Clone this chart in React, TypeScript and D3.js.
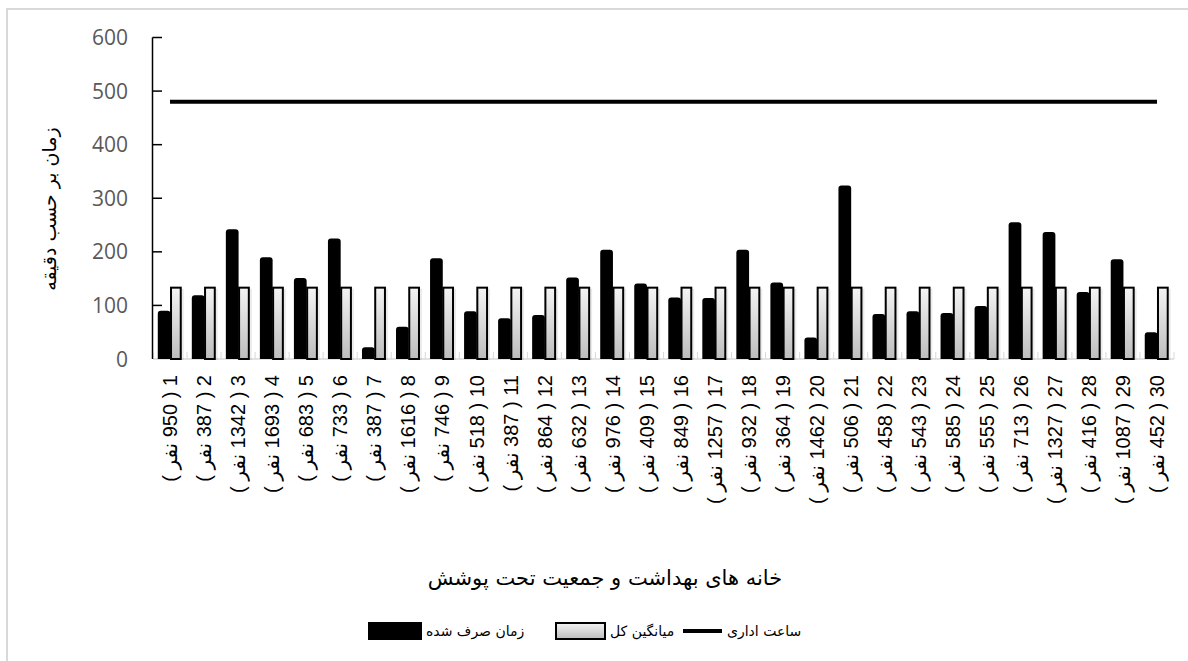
import React, { useRef, useEffect } from 'react';
import * as d3 from 'd3';

const CATEGORIES = Array.from({ length: 30 }, (_, i) => String(i + 1));
const POPULATION = [950, 387, 1342, 1693, 683, 733, 387, 1616, 746, 518, 387, 864, 632, 976, 409, 849, 1257, 932, 364, 1462, 506, 458, 543, 585, 555, 713, 1327, 416, 1087, 452];
const SPENT = [90, 119, 242, 190, 151, 225, 22, 60, 188, 89, 76, 82, 152, 204, 141, 115, 114, 204, 143, 40, 324, 84, 89, 86, 99, 255, 237, 125, 186, 50];
const AVERAGE = 135;
const OFFICE_HOURS = 480;
const Y_TICKS = [0, 100, 200, 300, 400, 500, 600];

const LEGEND = {
  spent: 'زمان صرف شده',
  avg: 'میانگین کل',
  office: 'ساعت اداری',
};

const W = 1188;
const H = 661;
const FA_FONT = '"DejaVu Sans", sans-serif';

const App: React.FC = () => {
  const svgRef = useRef<SVGSVGElement>(null);

  useEffect(() => {
    if (!svgRef.current) return;
    const svg = d3.select(svgRef.current);
    svg.selectAll('*').remove();

    const defs = svg.append('defs');
    const grad = defs.append('linearGradient')
      .attr('id', 'avgGrad')
      .attr('x1', 0).attr('y1', 0).attr('x2', 0).attr('y2', 1);
    grad.append('stop').attr('offset', '0%').attr('stop-color', '#f4f4f4');
    grad.append('stop').attr('offset', '100%').attr('stop-color', '#bdbdbd');

    // chart frame (only top/left edges visible)
    svg.append('rect')
      .attr('x', 7).attr('y', 9)
      .attr('width', 1300).attr('height', 800)
      .attr('fill', 'white')
      .attr('stroke', '#d9d9d9')
      .attr('stroke-width', 2);

    const x = d3.scaleBand<string>().domain(CATEGORIES).range([153, 1174]);
    const sub = d3.scaleBand<string>()
      .domain(['spent', 'avg'])
      .range([0, x.bandwidth()])
      .paddingOuter(0.45);
    const y = d3.scaleLinear().domain([0, 600]).range([359, 37.5]);

    const g = svg.append('g');

    // category axis baseline with separators
    g.append('line')
      .attr('x1', 153).attr('x2', 1174)
      .attr('y1', y(0)).attr('y2', y(0))
      .attr('stroke', '#d9d9d9').attr('stroke-width', 1.5);
    g.selectAll('.sep')
      .data([...CATEGORIES, 'end'])
      .join('line')
      .attr('x1', (d) => (d === 'end' ? 1174 : (x(d) as number)))
      .attr('x2', (d) => (d === 'end' ? 1174 : (x(d) as number)))
      .attr('y1', y(0) - 7).attr('y2', y(0))
      .attr('stroke', '#d9d9d9').attr('stroke-width', 1);

    // spent bars
    g.selectAll('.spent')
      .data(SPENT)
      .join('path')
      .attr('fill', '#000')
      .attr('d', (d, i) => {
        const x0 = (x(CATEGORIES[i]) as number) + (sub('spent') as number) - 0.5;
        const w = sub.bandwidth() + 1;
        const y0 = y(d);
        const r = Math.min(3, (y(0) - y0) / 2);
        return `M${x0},${y(0)}V${y0 + r}Q${x0},${y0} ${x0 + r},${y0}H${x0 + w - r}Q${x0 + w},${y0} ${x0 + w},${y0 + r}V${y(0)}Z`;
      });

    // average bars (soft shadow then bar)
    g.selectAll('.avgShadow')
      .data(CATEGORIES)
      .join('rect')
      .attr('x', (d) => (x(d) as number) + (sub('avg') as number) + 2)
      .attr('y', y(AVERAGE) + 2)
      .attr('width', sub.bandwidth())
      .attr('height', y(0) - y(AVERAGE) - 1)
      .attr('fill', '#000')
      .attr('opacity', 0.08);
    g.selectAll('.avg')
      .data(CATEGORIES)
      .join('rect')
      .attr('x', (d) => (x(d) as number) + (sub('avg') as number) + 1)
      .attr('y', y(AVERAGE) + 1)
      .attr('width', sub.bandwidth() - 2)
      .attr('height', y(0) - y(AVERAGE) - 1)
      .attr('fill', 'url(#avgGrad)')
      .attr('stroke', '#000')
      .attr('stroke-width', 2);

    // office hours line
    const line = d3.line<string>()
      .x((d) => (x(d) as number) + x.bandwidth() / 2)
      .y(() => y(OFFICE_HOURS));
    g.append('path')
      .datum(CATEGORIES)
      .attr('d', line)
      .attr('fill', 'none')
      .attr('stroke', '#000')
      .attr('stroke-width', 4);

    // value axis
    g.append('line')
      .attr('x1', 152.5).attr('x2', 152.5)
      .attr('y1', y(600)).attr('y2', y(0))
      .attr('stroke', '#000').attr('stroke-width', 1.5);
    g.selectAll('.ytick')
      .data(Y_TICKS.filter((t) => t > 0))
      .join('line')
      .attr('x1', 152.5).attr('x2', 162)
      .attr('y1', (d) => y(d)).attr('y2', (d) => y(d))
      .attr('stroke', '#000').attr('stroke-width', 1.5);
    g.selectAll('.ylab')
      .data(Y_TICKS)
      .join('text')
      .attr('x', 128)
      .attr('y', (d) => y(d))
      .attr('dy', '0.36em')
      .attr('text-anchor', 'end')
      .attr('fill', '#595959')
      .style('font-family', '"Open Sans", sans-serif')
      .style('font-size', '21px')
      .text((d) => d);

    // category labels, rotated
    g.selectAll('.xlab')
      .data(CATEGORIES)
      .join('text')
      .attr('transform', (d) => `translate(${(x(d) as number) + x.bandwidth() / 2},375) rotate(-90)`)
      .attr('dy', '0.36em')
      .attr('text-anchor', 'end')
      .attr('fill', '#000')
      .style('font-family', '"Liberation Sans", "DejaVu Sans", sans-serif')
      .style('font-size', '20px')
      .text((d, i) => `\u2067${d} ( ${POPULATION[i]} نفر )\u2069`);

    // axis titles
    g.append('text')
      .attr('transform', `translate(49,${(125 + 293) / 2}) rotate(-90)`)
      .attr('dy', '0.35em')
      .attr('text-anchor', 'middle')
      .style('font-family', FA_FONT)
      .style('font-size', '19px')
      .text('زمان بر حسب دقیقه');

    g.append('text')
      .attr('x', 605)
      .attr('y', 578)
      .attr('dy', '0.35em')
      .attr('text-anchor', 'middle')
      .style('font-family', FA_FONT)
      .style('font-size', '21px')
      .text('خانه های بهداشت و جمعیت تحت پوشش');

    // legend
    const ly = 631;
    const leg = svg.append('g');
    leg.append('rect').attr('x', 368).attr('y', ly - 9).attr('width', 54).attr('height', 18).attr('fill', '#000');
    leg.append('text').attr('x', 426).attr('y', ly).attr('dy', '0.35em').attr('text-anchor', 'start')
      .style('font-family', FA_FONT).style('font-size', '14px').text(LEGEND.spent);
    leg.append('rect').attr('x', 556).attr('y', ly - 8).attr('width', 49).attr('height', 16)
      .attr('fill', 'url(#avgGrad)').attr('stroke', '#000').attr('stroke-width', 2);
    leg.append('text').attr('x', 610).attr('y', ly).attr('dy', '0.35em').attr('text-anchor', 'start')
      .style('font-family', FA_FONT).style('font-size', '14px').text(LEGEND.avg);
    leg.append('line').attr('x1', 683).attr('x2', 722).attr('y1', ly).attr('y2', ly)
      .attr('stroke', '#000').attr('stroke-width', 4);
    leg.append('text').attr('x', 727).attr('y', ly).attr('dy', '0.35em').attr('text-anchor', 'start')
      .style('font-family', FA_FONT).style('font-size', '14px').text(LEGEND.office);
  }, []);

  return (
    <svg
      ref={svgRef}
      width={W}
      height={H}
      style={{ position: 'absolute', left: 0, top: 0, display: 'block', background: '#fff' }}
    />
  );
};

export default App;
